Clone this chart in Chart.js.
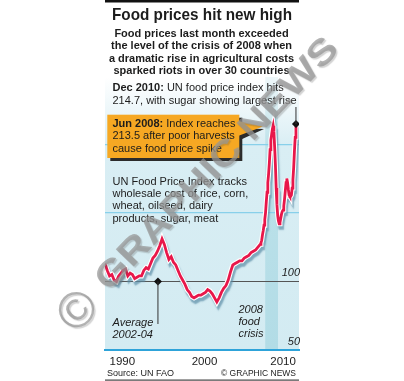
<!DOCTYPE html>
<html>
<head>
<meta charset="utf-8">
<script src="https://cdn.jsdelivr.net/npm/chart.js@4.4.0/dist/chart.umd.min.js"></script>
<style>
  html, body { margin: 0; padding: 0; background: #fff; }
  canvas { display: block; }
</style>
</head>
<body>
<canvas id="foodChart" width="404" height="381"></canvas>
<script>
// UN FAO food price index (2002-04 = 100), read off the graphic
// quarterly 1990 - 2006
const quarterStart = 1990;
const quarterlyIndex = [
    113, 108, 104, 105,   101, 100, 104, 106,   108, 109, 104, 106,
    105, 102, 103, 104,   104, 108, 110, 109,   113, 117, 119, 122,
    126, 131, 127, 121,   116, 118, 114, 112,   108, 104, 101, 98,
    94, 92, 89, 88,       89, 90, 90, 91,       92, 94, 93, 91,
    88, 85, 88, 92,       95, 97, 101, 107,     112, 113, 114, 115,
    115, 117, 118, 119,   121, 122, 123, 125
];
// monthly 2007 - 2010
const monthStart = 2007;
const monthlyIndex = [
    127, 128, 130, 134, 137, 141, 145, 150, 158, 165, 172, 178,
    186, 196, 203, 207, 211, 213.5, 209, 198, 185, 168, 156, 148,
    144, 142, 143, 146, 149, 151, 152, 155, 160, 166, 172, 175,
    172, 167, 163, 162, 162, 163, 168, 174, 183, 195, 205, 214.7
];

const xTickYears = [1991.9, 2000.9, 2009.5];
const xTickLabels = ['1990', '2000', '2010'];
const yGridValues = [50, 100, 150, 200];
const yTickLabels = [50, 100];
const crisisYears = [2007.55, 2008.95];
const dec2010 = { x: 2010.917, y: 214.7 };
const averageMarker = { x: 1995.8, y: 100 };

const titleText = 'Food prices hit new high';
const introLines = [
    'Food prices last month exceeded',
    'the level of the crisis of 2008 when',
    'a dramatic rise in agricultural costs',
    'sparked riots in over 30 countries'
];
const dec2010Lines = [
    [['Dec 2010:', true], [' UN food price index hits', false]],
    [['214.7, with sugar showing largest rise', false]]
];
const jun2008Lines = [
    [['Jun 2008:', true], [' Index reaches', false]],
    [['213.5 after poor harvests', false]],
    [['cause food price spike', false]]
];
const indexNoteLines = [
    'UN Food Price Index tracks',
    'wholesale cost of rice, corn,',
    'wheat, oilseed, dairy',
    'products, sugar, meat'
];
const averageLines = ['Average', '2002-04'];
const crisisLines = ['2008', 'food', 'crisis'];

// build the series
var series = [];
quarterlyIndex.forEach((v, i) => series.push({ x: quarterStart + i / 4, y: v }));
monthlyIndex.forEach((v, i) => series.push({ x: monthStart + i / 12, y: v }));

const FONT = '"Liberation Sans", Arial, sans-serif';
const INK = '#1c1c1c';

function drawRuns(ctx, x, y, parts, size) {
    parts.forEach(([t, bold]) => {
        ctx.font = (bold ? 'bold ' : '') + size + 'px ' + FONT;
        ctx.fillText(t, x, y);
        x += ctx.measureText(t).width;
    });
}

function fitText(ctx, text, x, y, width, align) {
    const w = ctx.measureText(text).width;
    ctx.save();
    ctx.translate(x, y);
    ctx.scale(width / w, 1);
    ctx.textAlign = align;
    ctx.fillText(text, 0, 0);
    ctx.restore();
}

const artwork = {
    id: 'artwork',
    beforeDraw(chart) {
        const { ctx, chartArea: a, scales: { x } } = chart;
        ctx.save();
        const g = ctx.createLinearGradient(0, a.top, 0, a.bottom);
        g.addColorStop(0, '#ffffff');
        g.addColorStop(0.25, '#d9eef4');
        g.addColorStop(1, '#d3ebf2');
        ctx.fillStyle = g;
        ctx.fillRect(a.left, a.top, a.right - a.left, a.bottom - a.top);

        // 2008 food crisis band
        const x0 = x.getPixelForValue(crisisYears[0]);
        const x1 = x.getPixelForValue(crisisYears[1]);
        const g2 = ctx.createLinearGradient(0, a.top, 0, a.bottom);
        g2.addColorStop(0, '#eef7f9');
        g2.addColorStop(0.25, '#bde2ea');
        g2.addColorStop(1, '#b2dce6');
        ctx.fillStyle = g2;
        ctx.fillRect(x0, a.top, x1 - x0, a.bottom - a.top);
        ctx.restore();
    },
    beforeDatasetDraw(chart, args) {
        if (chart.data.datasets[args.index].halo) {
            const ctx = chart.ctx;
            ctx.save();
            ctx.shadowColor = 'rgba(90,140,165,0.7)';
            ctx.shadowOffsetX = 1.5;
            ctx.shadowOffsetY = 3.5;
            ctx.shadowBlur = 1.5;
        }
    },
    afterDatasetDraw(chart, args) {
        if (chart.data.datasets[args.index].halo) chart.ctx.restore();
    },
    afterDraw(chart) {
        const { ctx, chartArea: a, scales: { x, y } } = chart;
        ctx.save();
        ctx.fillStyle = '#111';
        ctx.fillRect(a.left, 0, a.right - a.left, 2.5);

        // title and intro
        ctx.fillStyle = INK;
        ctx.textBaseline = 'alphabetic';
        ctx.font = 'bold 17px ' + FONT;
        fitText(ctx, titleText, 202, 20, 180, 'center');
        ctx.font = 'bold 11px ' + FONT;
        ctx.textAlign = 'center';
        introLines.forEach((t, i) => ctx.fillText(t, 201.5, 37.3 + i * 12.1));
        ctx.textAlign = 'left';

        // Dec 2010 note
        dec2010Lines.forEach((p, i) => drawRuns(ctx, 112.5, 91 + i * 13, p, 11));
        const dx = x.getPixelForValue(dec2010.x), dy = y.getPixelForValue(dec2010.y);
        ctx.strokeStyle = '#333';
        ctx.lineWidth = 1;
        ctx.beginPath();
        ctx.moveTo(dx, dy);
        ctx.lineTo(dx, 107);
        ctx.stroke();

        // Jun 2008 box
        ctx.fillStyle = '#2b2b2b';
        ctx.fillRect(110.3, 117.7, 132, 43.3);
        ctx.beginPath();
        ctx.moveTo(240, 128); ctx.lineTo(240, 140); ctx.lineTo(264, 129); ctx.closePath();
        ctx.fill();
        ctx.fillStyle = '#f6a823';
        ctx.fillRect(107.3, 114.7, 132, 43.3);
        ctx.beginPath();
        ctx.moveTo(238, 121); ctx.lineTo(238, 136); ctx.lineTo(263, 126.5); ctx.closePath();
        ctx.fill();
        ctx.fillStyle = INK;
        jun2008Lines.forEach((p, i) => drawRuns(ctx, 112.5, 126.5 + i * 12.9, p, 11));

        // index description
        ctx.font = '11px ' + FONT;
        indexNoteLines.forEach((t, i) => ctx.fillText(t, 112.5, 184.5 + i * 12.4));

        // average marker stem
        const ax = x.getPixelForValue(averageMarker.x), ay = y.getPixelForValue(averageMarker.y);
        ctx.strokeStyle = '#333';
        ctx.beginPath();
        ctx.moveTo(ax, ay);
        ctx.lineTo(ax, 324);
        ctx.stroke();
        ctx.font = 'italic 11px ' + FONT;
        averageLines.forEach((t, i) => ctx.fillText(t, 112.5, 325.5 + i * 12));
        crisisLines.forEach((t, i) => ctx.fillText(t, 238.5, 312.5 + i * 12.3));

        // footer
        ctx.font = '9px ' + FONT;
        ctx.fillText('Source: UN FAO', 107, 376);
        fitText(ctx, '\u00A9 GRAPHIC NEWS', 296, 375.5, 75, 'right');
        ctx.fillStyle = '#444';
        ctx.fillRect(a.left, 379.5, a.right - a.left, 1.2);

        // watermark
        ctx.fillStyle = 'rgba(150,150,150,0.72)';
        ctx.shadowColor = 'rgba(80,80,80,0.35)';
        ctx.shadowOffsetX = 1.5;
        ctx.shadowOffsetY = 1.5;
        ctx.shadowBlur = 1;
        ctx.font = 'bold 36px ' + FONT;
        ctx.textBaseline = 'middle';
        ctx.save();
        ctx.translate(217.5, 164.5);
        ctx.rotate(-46.3 * Math.PI / 180);
        fitText(ctx, 'GRAPHIC NEWS', 0, 0, 335, 'center');
        ctx.restore();
        ctx.font = '50px ' + FONT;
        ctx.save();
        ctx.translate(79, 312);
        ctx.rotate(-46.3 * Math.PI / 180);
        ctx.textAlign = 'center';
        ctx.fillText('\u00A9', 0, 0);
        ctx.restore();
        ctx.restore();
    }
};

const ctx = document.getElementById('foodChart').getContext('2d');

const foodChart = new Chart(ctx, {
    type: 'line',
    data: {
        datasets: [{
            data: [dec2010, averageMarker],
            showLine: false,
            pointStyle: 'rectRot',
            pointRadius: 4,
            backgroundColor: '#111',
            borderColor: '#111',
            borderWidth: 0,
            order: -1
        }, {
            data: series,
            borderColor: '#e8174a',
            borderWidth: 2.8,
            pointRadius: 0,
            tension: 0,
            order: 0
        }, {
            data: series,
            halo: true,
            borderColor: '#ffffff',
            borderWidth: 5,
            pointRadius: 0,
            tension: 0,
            order: 1
        }]
    },
    options: {
        responsive: false,
        animation: false,
        devicePixelRatio: 1,
        layout: { padding: { left: 105, right: 105, top: 77, bottom: 0 } },
        plugins: { legend: { display: false }, tooltip: { enabled: false } },
        scales: {
            x: {
                type: 'linear',
                min: 1990,
                max: 2011.25,
                grid: { display: false },
                border: { color: '#2ea3d9', width: 2 },
                afterBuildTicks: axis => { axis.ticks = xTickYears.map(v => ({ value: v })); },
                afterFit: axis => { axis.height = 31; },
                ticks: {
                    autoSkip: false,
                    maxRotation: 0,
                    padding: -3,
                    color: INK,
                    font: { family: FONT, size: 11.5 },
                    callback: (v) => xTickLabels[xTickYears.indexOf(v)]
                }
            },
            y: {
                type: 'linear',
                position: 'right',
                min: 50,
                max: 249,
                border: { display: false },
                afterBuildTicks: axis => { axis.ticks = yGridValues.map(v => ({ value: v })); },
                afterFit: axis => { axis.width = 0; },
                grid: {
                    drawTicks: false,
                    color: c => c.tick.value === 100 ? '#555' : (c.tick.value === 50 ? 'rgba(0,0,0,0)' : '#88d0ea'),
                    lineWidth: c => c.tick.value === 100 ? 1 : 1.2
                },
                ticks: {
                    mirror: true,
                    padding: 1,
                    labelOffset: -8,
                    color: INK,
                    font: { family: FONT, size: 11, style: 'italic' },
                    callback: v => yTickLabels.includes(v) ? String(v) : ''
                }
            }
        }
    },
    plugins: [artwork]
});
</script>
</body>
</html>
